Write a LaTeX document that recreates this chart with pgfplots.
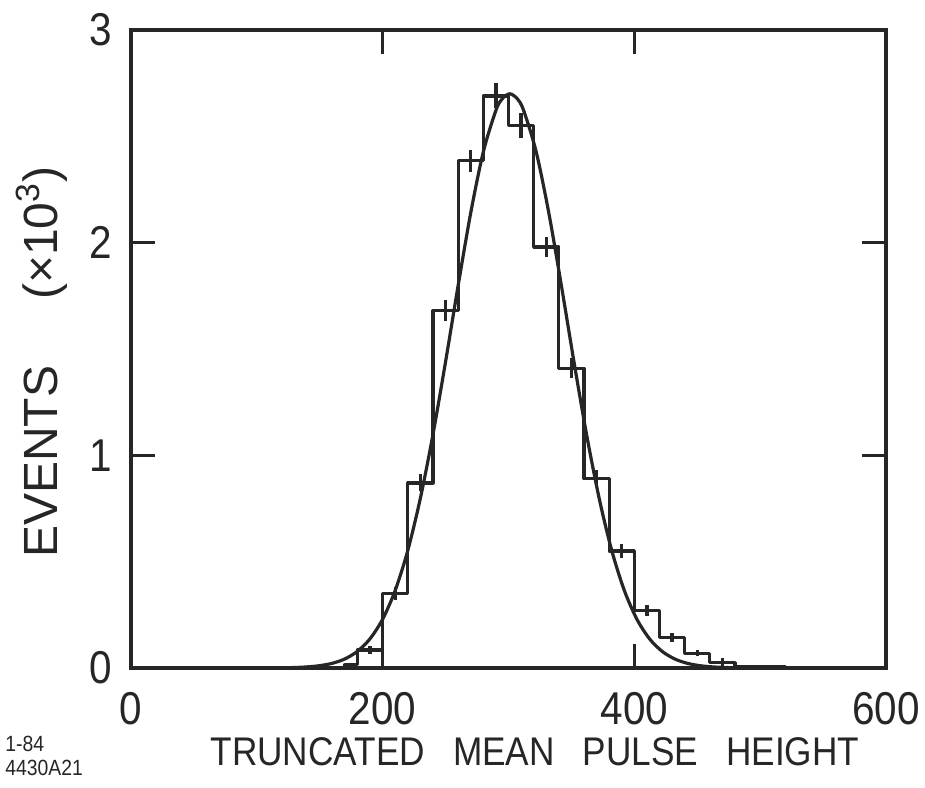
\documentclass[border=0pt]{standalone}
\usepackage{fontspec}
\setmainfont{Liberation Sans}[FakeStretch=0.88]
\newfontfamily\ylfont{Liberation Sans}
\usepackage{pgfplots}
\pgfplotsset{compat=1.18}
\definecolor{ink}{gray}{0.15}
\begin{document}
\begin{tikzpicture}
\begin{axis}[
  at={(0,0)}, anchor=south west,
  scale only axis, width=377.5pt, height=319pt,
  xmin=0, xmax=600, ymin=0, ymax=3,
  xtick={0,200,400,600}, ytick={0,1,2,3},
  xticklabels={0,200,400,600}, yticklabels={0,1,2,3},
  tick align=inside, major tick length=12pt,
  axis line style={line width=1.6pt, ink},
  tick style={line width=1.6pt, ink},
  /pgf/number format/assume math mode=true,
  every tick label/.append style={font=\fontsize{23}{23}\selectfont, text=ink},
  xticklabel style={inner sep=0pt}, xticklabel shift=12pt,
  yticklabel style={inner sep=0pt}, yticklabel shift=9.5pt,
  xlabel={TRUNCATED\hspace{14pt}MEAN\hspace{14pt}PULSE\hspace{14pt}HEIGHT},
  xlabel style={at={(axis description cs:0.535,-0.132)}, anchor=center, font=\fontsize{20}{20}\selectfont, text=ink},
  ylabel={EVENTS\hspace{33pt}(×10\textsuperscript{3})},
  ylabel style={at={(axis description cs:-0.1185,0.479)}, anchor=center, font=\ylfont\fontsize{24}{24}\selectfont, text=ink},
]
% histogram (x10^3 events per bin of width 20)
\addplot[ink, line width=1.6pt, const plot, line join=round] coordinates {
  (170,0) (170,0.015) (180,0.085) (200,0.35) (220,0.87) (240,1.68) (260,2.385)
  (280,2.69) (300,2.55) (320,1.98) (340,1.41) (360,0.89) (380,0.55) (400,0.27)
  (420,0.145) (440,0.07) (460,0.025) (480,0.005) (520,0.005) (520,0)};
% statistical error bars (lower and upper end of each bar at the bin centre)
\addplot[ink, line width=1.6pt, unbounded coords=jump] coordinates {
  (190,0.065) (190,0.105) (190,nan)
  (210,0.32) (210,0.38) (210,nan)
  (230,0.83) (230,0.91) (230,nan)
  (250,1.63) (250,1.73) (250,nan)
  (270,2.334) (270,2.436) (270,nan)
  (290,2.631) (290,2.749) (290,nan)
  (310,2.491) (310,2.609) (310,nan)
  (330,1.931) (330,2.029) (330,nan)
  (350,1.362) (350,1.458) (350,nan)
  (370,0.85) (370,0.93) (370,nan)
  (390,0.519) (390,0.581) (390,nan)
  (410,0.244) (410,0.296) (410,nan)
  (430,0.124) (430,0.166) (430,nan)
  (450,0.055) (450,0.085) (450,nan)
  (470,0.005) (470,0.045)};
% fitted curve
\addplot[ink, line width=1.6pt, smooth] coordinates {
  (120,0.0010) (130,0.0023) (140,0.0052) (150,0.0110) (160,0.0222) (170,0.0428)
  (180,0.0787) (190,0.1378) (200,0.2298) (210,0.3654) (220,0.5535) (230,0.7992)
  (240,1.0992) (250,1.4407) (260,1.7990) (270,2.1408) (280,2.4273) (290,2.6222)
  (295,2.6765) (301,2.700) (307,2.6765) (312,2.6222) (322,2.4273) (332,2.1408)
  (342,1.7990) (352,1.4407) (362,1.0992) (372,0.7992) (382,0.5535) (392,0.3654)
  (402,0.2298) (412,0.1378) (422,0.0787) (432,0.0428) (442,0.0222) (452,0.0110)
  (462,0.0052) (472,0.0023) (482,0.0010) (492,0.0004)};
\end{axis}
\node[anchor=north west, align=left, font=\fontsize{11}{12}\selectfont, inner sep=0pt, text=ink] at (-63pt,-34pt) {1-84\\4430A21};
\path[use as bounding box] (-65.5pt,-59.5pt) rectangle (397pt,334pt);
\end{tikzpicture}
\end{document}
